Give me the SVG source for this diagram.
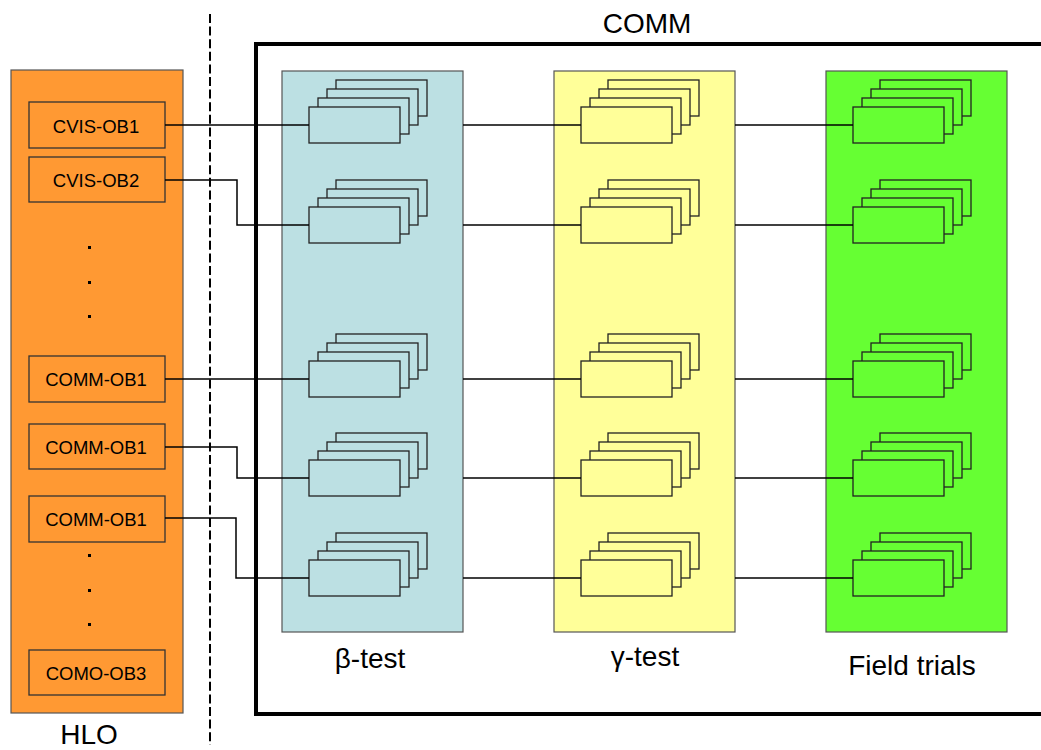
<svg xmlns="http://www.w3.org/2000/svg" width="1041" height="750" viewBox="0 0 1041 750">
  <defs>
    <style>
      .lbl { font-family: "Liberation Sans", Arial, sans-serif; fill: #000; }
      .big { font-size: 28px; }
      .obj { font-size: 18.5px; text-anchor: middle; }
      .panel { stroke: #555; stroke-width: 1.2; }
      .hlo-item { fill: #FF9933; stroke: #333; stroke-width: 1.3; }
      .card { stroke: #222; stroke-width: 1.3; }
      .wire { fill: none; stroke: #000; stroke-width: 1.5; }
      .dot { fill: #000; }
    </style>
    <!-- one stack of four offset cards; fill inherited from the column -->
    <g id="stack">
      <rect class="card" x="27" y="-27" width="91" height="36"/>
      <rect class="card" x="18" y="-18" width="91" height="36"/>
      <rect class="card" x="9" y="-9" width="91" height="36"/>
      <rect class="card" x="0" y="0" width="91" height="36"/>
    </g>
  </defs>

  <rect width="1041" height="750" fill="#fff"/>

  <!-- COMM frame (open to the right) -->
  <g id="comm-frame">
    <path d="M1045 44 H256 V714 H1045" fill="none" stroke="#000" stroke-width="4"/>
    <text class="lbl big" x="647" y="33" text-anchor="middle">COMM</text>
  </g>

  <!-- boundary -->
  <line id="boundary" x1="210" y1="14" x2="210" y2="745" stroke="#000" stroke-width="2" stroke-dasharray="9 3.6"/>

  <!-- HLO column -->
  <g id="hlo">
    <rect class="panel" x="11" y="70" width="172" height="643" fill="#FF9933"/>
    <text class="lbl big" x="89" y="744" text-anchor="middle">HLO</text>
  </g>
  <g id="cvis-ob1">
    <rect class="hlo-item" x="29" y="102" width="136" height="46"/>
    <text class="lbl obj" x="96" y="133">CVIS-OB1</text>
  </g>
  <g id="cvis-ob2">
    <rect class="hlo-item" x="29" y="157" width="136" height="45"/>
    <text class="lbl obj" x="96" y="187">CVIS-OB2</text>
  </g>
  <g id="hlo-dots-upper">
    <rect class="dot" x="88" y="246" width="3" height="3"/>
    <rect class="dot" x="88" y="281" width="3" height="3"/>
    <rect class="dot" x="88" y="315" width="3" height="3"/>
  </g>
  <g id="comm-ob1-a">
    <rect class="hlo-item" x="29" y="356" width="136" height="46"/>
    <text class="lbl obj" x="96" y="386">COMM-OB1</text>
  </g>
  <g id="comm-ob1-b">
    <rect class="hlo-item" x="29" y="424" width="136" height="45"/>
    <text class="lbl obj" x="96" y="454">COMM-OB1</text>
  </g>
  <g id="comm-ob1-c">
    <rect class="hlo-item" x="29" y="496" width="136" height="46"/>
    <text class="lbl obj" x="96" y="526">COMM-OB1</text>
  </g>
  <g id="hlo-dots-lower">
    <rect class="dot" x="88" y="554" width="3" height="3"/>
    <rect class="dot" x="88" y="589" width="3" height="3"/>
    <rect class="dot" x="88" y="623" width="3" height="3"/>
  </g>
  <g id="como-ob3">
    <rect class="hlo-item" x="29" y="650" width="136" height="45"/>
    <text class="lbl obj" x="96" y="680">COMO-OB3</text>
  </g>

  <!-- beta-test column -->
  <g id="beta-test" fill="#BCE0E3">
    <rect class="panel" x="282" y="71" width="181" height="561"/>
    <use href="#stack" x="309" y="107"/>
    <use href="#stack" x="309" y="207"/>
    <use href="#stack" x="309" y="361"/>
    <use href="#stack" x="309" y="460"/>
    <use href="#stack" x="309" y="560"/>
    <text class="lbl big" x="370" y="668" text-anchor="middle">β-test</text>
  </g>

  <!-- gamma-test column -->
  <g id="gamma-test" fill="#FFFF99">
    <rect class="panel" x="554" y="71" width="181" height="561"/>
    <use href="#stack" x="581" y="107"/>
    <use href="#stack" x="581" y="207"/>
    <use href="#stack" x="581" y="361"/>
    <use href="#stack" x="581" y="460"/>
    <use href="#stack" x="581" y="560"/>
    <text class="lbl big" x="645" y="666" text-anchor="middle">γ-test</text>
  </g>

  <!-- field trials column -->
  <g id="field-trials" fill="#66FF33">
    <rect class="panel" x="826" y="71" width="181" height="561"/>
    <use href="#stack" x="853" y="107"/>
    <use href="#stack" x="853" y="207"/>
    <use href="#stack" x="853" y="361"/>
    <use href="#stack" x="853" y="460"/>
    <use href="#stack" x="853" y="560"/>
    <text class="lbl big" x="912" y="675" text-anchor="middle">Field trials</text>
  </g>

  <!-- connectors -->
  <g id="connectors">
    <path class="wire" d="M165 125 H309"/>
    <path class="wire" d="M165 180 H237 V225 H309"/>
    <path class="wire" d="M165 379 H309"/>
    <path class="wire" d="M165 447 H237 V478 H309"/>
    <path class="wire" d="M165 518 H236 V578 H309"/>

    <path class="wire" d="M463 125 H581"/>
    <path class="wire" d="M463 225 H581"/>
    <path class="wire" d="M463 379 H581"/>
    <path class="wire" d="M463 478 H581"/>
    <path class="wire" d="M463 578 H581"/>

    <path class="wire" d="M735 125 H853"/>
    <path class="wire" d="M735 225 H853"/>
    <path class="wire" d="M735 379 H853"/>
    <path class="wire" d="M735 478 H853"/>
    <path class="wire" d="M735 578 H853"/>
  </g>
</svg>
